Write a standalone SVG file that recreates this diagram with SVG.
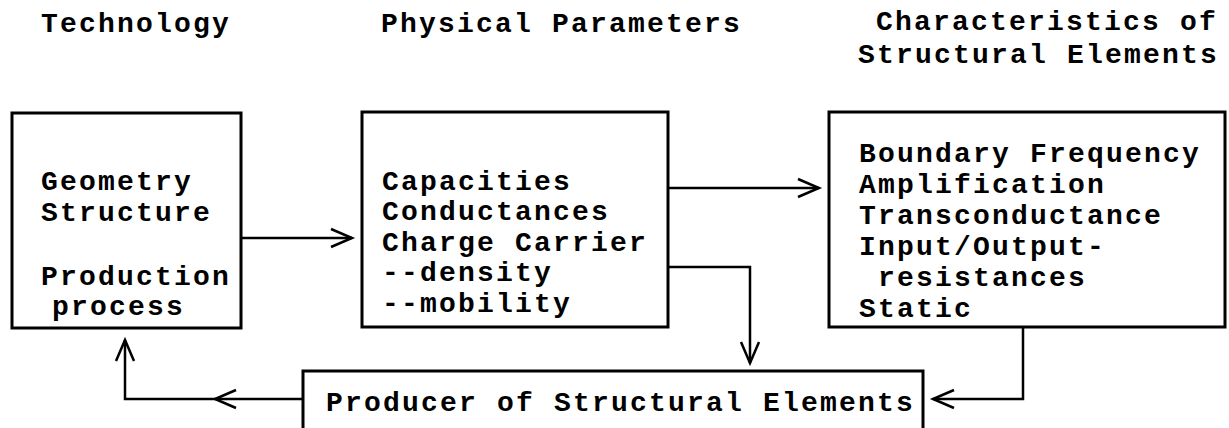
<svg xmlns="http://www.w3.org/2000/svg" width="1229" height="428" viewBox="0 0 1229 428">
<defs>
<style>
text{font-family:"Liberation Mono","DejaVu Sans Mono",monospace;font-weight:bold;font-size:28px;letter-spacing:2.2px;fill:#000}
.box{fill:none;stroke:#000;stroke-width:3}
.con{fill:none;stroke:#000;stroke-width:2.5}
</style>
<marker id="arr" markerUnits="userSpaceOnUse" markerWidth="30" markerHeight="24" viewBox="-24 -12 30 24" refX="0" refY="0" orient="auto">
<path d="M-21,-9 L0,0 L-21,9" fill="none" stroke="#000" stroke-width="2.5"/>
</marker>
</defs>
<rect width="1229" height="428" fill="#fff"/>
<g id="headings">
<text x="41" y="32">Technology</text>
<text x="381" y="32">Physical Parameters</text>
<text x="876" y="30">Characteristics of</text>
<text x="858" y="63">Structural Elements</text>
</g>
<g id="node-technology">
<rect class="box" x="12" y="113" width="229" height="215"/>
<text x="41" y="190">Geometry</text>
<text x="41" y="221">Structure</text>
<text x="41" y="285">Production</text>
<text x="52" y="315">process</text>
</g>
<g id="node-physical">
<rect class="box" x="362" y="112" width="306" height="215"/>
<text x="382" y="190">Capacities</text>
<text x="382" y="220">Conductances</text>
<text x="382" y="251">Charge Carrier</text>
<text x="382" y="281">--density</text>
<text x="382" y="312">--mobility</text>
</g>
<g id="node-characteristics">
<rect class="box" x="829" y="112" width="396" height="215"/>
<text x="859" y="162">Boundary Frequency</text>
<text x="859" y="193">Amplification</text>
<text x="859" y="224">Transconductance</text>
<text x="859" y="255">Input/Output-</text>
<text x="878" y="286">resistances</text>
<text x="859" y="317">Static</text>
</g>
<g id="node-producer">
<rect class="box" x="303" y="371" width="620" height="100"/>
<text x="326" y="411">Producer of Structural Elements</text>
</g>
<g id="connectors">
<path class="con" d="M241,238 L352,238" marker-end="url(#arr)"/>
<path class="con" d="M668,188 L819,188" marker-end="url(#arr)"/>
<path class="con" d="M668,267 L750,267 L750,363" marker-end="url(#arr)"/>
<path class="con" d="M1023,327 L1023,399 L933,399" marker-end="url(#arr)"/>
<path class="con" d="M303,399 L215,399" marker-end="url(#arr)"/>
<path class="con" d="M215,399 L125,399 L125,340" marker-end="url(#arr)"/>
</g>
</svg>
